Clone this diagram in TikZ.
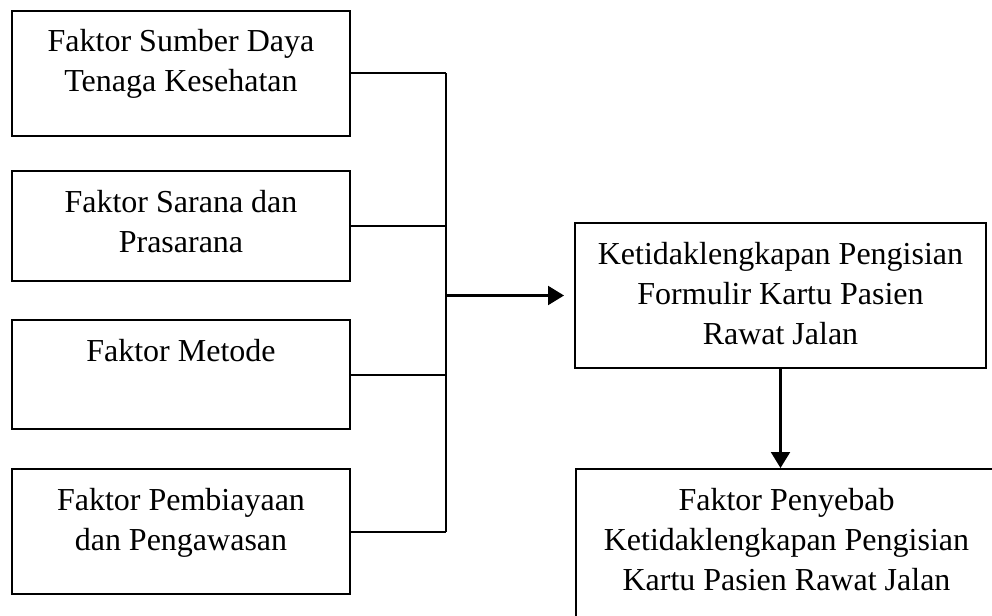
\documentclass[tikz,border=0pt]{standalone}
\usepackage{fontspec}
\setmainfont{Liberation Serif}
\usetikzlibrary{arrows.meta}
\newcommand{\boxtext}[3]{\parbox[c][#2][t]{#1}{\centering\rule{0pt}{41pt}#3}}
\tikzset{
  factor/.style={draw, line width=2pt, anchor=north west, inner sep=0pt},
  link/.style={line width=2pt},
  flow/.style={line width=2.2pt, -{Triangle[length=16pt,width=19pt]}}
}
\begin{document}
\begin{tikzpicture}[x=1pt, y=-1pt, font=\fontsize{32}{40}\selectfont]
    \useasboundingbox (0,0) rectangle (992,615);
    \clip (0,0) rectangle (992,615);

    % faktor-faktor
    \node[factor] (sdm) at (11,10) {\boxtext{338pt}{125pt}{Faktor Sumber Daya\\Tenaga Kesehatan}};
    \node[factor] (sarana) at (11,170) {\boxtext{338pt}{110pt}{Faktor Sarana dan\\Prasarana}};
    \node[factor] (metode) at (11,319) {\boxtext{338pt}{109pt}{Faktor Metode}};
    \node[factor] (biaya) at (11,468) {\boxtext{338pt}{125pt}{Faktor Pembiayaan\\dan Pengawasan}};

    \node[factor] (ket) at (574,222) {\boxtext{411pt}{145pt}{Ketidaklengkapan Pengisian\\Formulir Kartu Pasien\\Rawat Jalan}};
    \node[factor] (sebab) at (575,468) {\boxtext{421pt}{155pt}{Faktor Penyebab\\Ketidaklengkapan Pengisian\\Kartu Pasien Rawat Jalan}};

    \coordinate (bus) at (445.7,0);
    \foreach \f in {sdm,sarana,metode,biaya}
        \draw[link] (\f.east) -- (\f.east -| bus);
    \draw[link] (sdm.east -| bus) -- (biaya.east -| bus);

    \draw[flow, shorten >=10pt] (bus |- ket.west) -- (ket.west);
    \draw[flow] (ket.south) -- (ket.south |- sebab.north);
\end{tikzpicture}
\end{document}
